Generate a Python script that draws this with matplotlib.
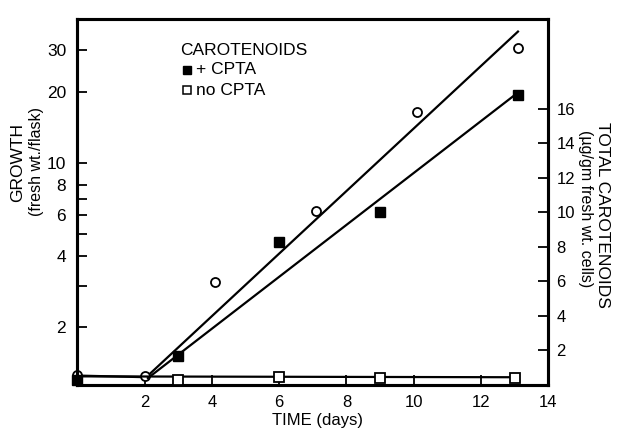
import matplotlib.pyplot as plt
from matplotlib.ticker import FixedLocator, FixedFormatter, NullFormatter

plt.rcParams['font.family'] = ['Liberation Sans', 'DejaVu Sans']

# Growth (fresh wt./flask), open circles, left log axis
growth_days = [0, 2, 4.1, 7.1, 10.1, 13.1]
growth_vals = [1.26, 1.24, 3.13, 6.26, 16.3, 30.7]
growth_fit_days = [0, 2.05, 13.1]
growth_fit_vals = [1.25, 1.23, 35.9]

# Total carotenoids (ug/gm fresh wt. cells), right linear axis
cpta_days = [0, 3, 6, 9, 13.1]
cpta_vals = [0.3, 1.7, 8.3, 10.0, 16.8]
cpta_fit_days = [2.1, 13.0]
cpta_fit_vals = [0.4, 16.8]

nocpta_days = [3, 6, 9, 13]
nocpta_vals = [0.3, 0.45, 0.4, 0.4]
nocpta_fit_days = [0, 13]
nocpta_fit_vals = [0.5, 0.45]

x_ticks = [2, 4, 6, 8, 10, 12, 14]
left_ticks = [2, 4, 6, 8, 10, 20, 30]
left_minor = [3, 5, 7]
right_ticks = [2, 4, 6, 8, 10, 12, 14, 16]

fig = plt.figure(figsize=(6.28, 4.37), dpi=100)
ax = fig.add_axes([0.123, 0.119, 0.75, 0.837])
ax2 = ax.twinx()

# growth on log axis
ax.set_yscale('log')
ax.plot(growth_fit_days, growth_fit_vals, color='black', lw=1.6)
ax.plot(growth_days, growth_vals, 'o', ms=6.5, mfc='white', mec='black', mew=1.3, clip_on=False, zorder=5)
ax.set_xlim(0, 14)
ax.set_ylim(1.14, 40.5)

# carotenoids on linear axis
ax2.plot(cpta_fit_days, cpta_fit_vals, color='black', lw=1.6)
ax2.plot(nocpta_fit_days, nocpta_fit_vals, color='black', lw=1.6)
ax2.plot(cpta_days, cpta_vals, 's', ms=6.5, color='black', clip_on=False, zorder=5)
ax2.plot(nocpta_days, nocpta_vals, 's', ms=6.5, mfc='white', mec='black', mew=1.3, clip_on=False, zorder=5)
ax2.set_ylim(0, 21.2)

# ticks
ax.xaxis.set_major_locator(FixedLocator(x_ticks))
ax.set_xticklabels([str(t) for t in x_ticks])
ax.yaxis.set_major_locator(FixedLocator(left_ticks))
ax.yaxis.set_major_formatter(FixedFormatter([str(t) for t in left_ticks]))
ax.yaxis.set_minor_locator(FixedLocator(left_minor))
ax.yaxis.set_minor_formatter(NullFormatter())
ax2.yaxis.set_major_locator(FixedLocator(right_ticks))

ax.tick_params(axis='x', direction='in', length=7, width=1.3, labelsize=12, pad=7, top=False)
ax.tick_params(axis='y', which='both', direction='in', length=7, width=1.3, labelsize=12.5, pad=8)
ax2.tick_params(axis='y', direction='in', length=7, width=1.3, labelsize=12, pad=6)

for a in (ax, ax2):
    for s in a.spines.values():
        s.set_linewidth(2.2)

# legend drawn as text
ax.text(0.218, 0.915, 'CAROTENOIDS', transform=ax.transAxes, fontsize=12.5, va='center')
ax.plot([0.232], [0.862], 's', ms=5.5, color='black', transform=ax.transAxes, clip_on=False)
ax.text(0.252, 0.862, '+ CPTA', transform=ax.transAxes, fontsize=12.5, va='center')
ax.plot([0.232], [0.806], 's', ms=5.5, mfc='white', mec='black', mew=1.1, transform=ax.transAxes, clip_on=False)
ax.text(0.252, 0.806, 'no CPTA', transform=ax.transAxes, fontsize=12.5, va='center')

# axis labels
fig.text(318 / 628, 1 - 421 / 437, 'TIME (days)', ha='center', va='center', fontsize=12)
fig.text(18 / 628, 1 - 162 / 437, 'GROWTH', rotation=90, ha='center', va='center', fontsize=12.5)
fig.text(36 / 628, 1 - 162 / 437, '(fresh wt./flask)', rotation=90, ha='center', va='center', fontsize=11.5)
fig.text(602 / 628, 1 - 215 / 437, 'TOTAL CAROTENOIDS', rotation=-90, ha='center', va='center', fontsize=12.5)
fig.text(586 / 628, 1 - 209 / 437, '(µg/gm fresh wt. cells)', rotation=-90, ha='center', va='center', fontsize=11.5)

fig.savefig('out.png', dpi=100)
